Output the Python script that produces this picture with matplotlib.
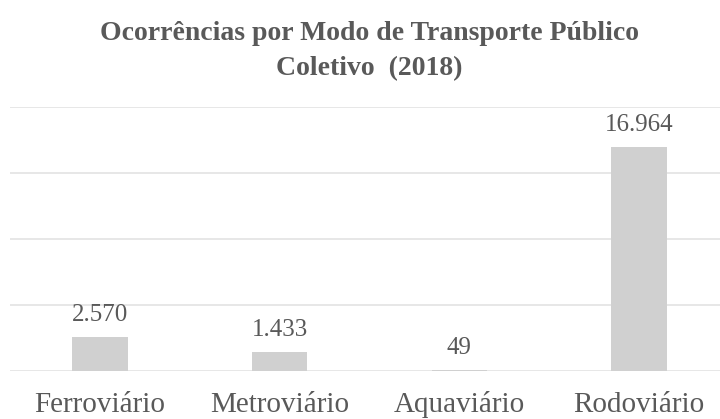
import numpy as np
import matplotlib.pyplot as plt

# dados
modos = ['Ferroviário', 'Metroviário', 'Aquaviário', 'Rodoviário']
ocorrencias = [2570, 1433, 49, 16964]
rotulos = ['2.570', '1.433', '49', '16.964']

plt.rcParams['font.family'] = ['Liberation Serif', 'DejaVu Serif']
cor_texto = '#595959'

fig = plt.figure(figsize=(7.2, 4.19), dpi=100)
ax = fig.add_axes([10/720, 1 - 371/419, 710/720, 264/419])

x = np.arange(len(modos))
ax.bar(x, ocorrencias, width=0.31, color='#D0D0D0', zorder=2)

for xi, v, r in zip(x, ocorrencias, rotulos):
    ax.annotate(r, (xi, v), xytext=(0, 8), textcoords='offset points',
                ha='center', va='bottom', fontsize=18, color=cor_texto)

ax.set_ylim(0, 20000)
ax.set_xlim(-0.5, 3.45)
ax.set_yticks([0, 5000, 10000, 15000, 20000])
ax.yaxis.grid(True, color='#E3E3E3', linewidth=1.2, zorder=0)
ax.tick_params(axis='y', left=False, labelleft=False)
ax.tick_params(axis='x', length=0, pad=29.5, labelsize=21, labelcolor=cor_texto)
ax.set_xticks(x)
ax.set_xticklabels(modos)
for lbl in ax.get_xticklabels():
    lbl.set_verticalalignment('baseline')
for s in ax.spines.values():
    s.set_visible(False)

fig.text(0.513, 1 - 51/419, 'Ocorrências por Modo de Transporte Público\nColetivo  (2018)',
         ha='center', va='center', fontsize=20, fontweight='bold',
         color=cor_texto, linespacing=1.5)

fig.savefig('out.png', dpi=100)
